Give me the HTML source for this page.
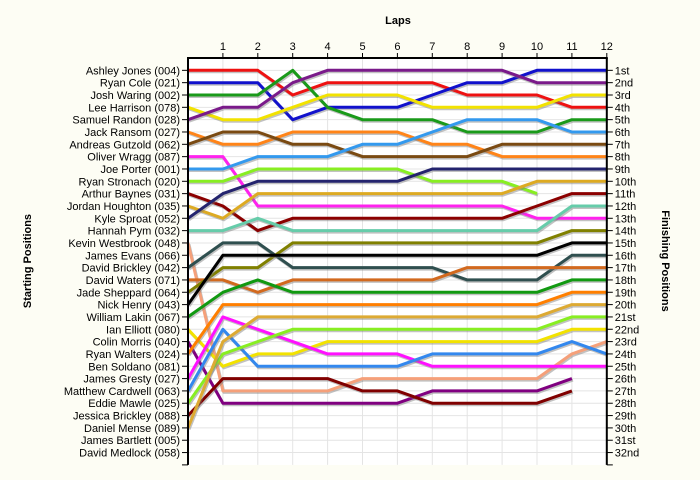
<!DOCTYPE html>
<html><head><meta charset="utf-8"><style>
html,body{margin:0;padding:0;background:#fdfdf4;}
svg{display:block;font-family:"Liberation Sans",sans-serif;}
</style></head><body>
<svg id="chart" width="700" height="480" viewBox="0 0 700 480">
<rect x="0" y="0" width="700" height="480" fill="#fdfdf4"/>
<rect x="188" y="58" width="419" height="407" fill="#ffffff"/>
<g id="grid"></g><g id="series"></g><g id="axes"></g>
<text x="398" y="24" text-anchor="middle" font-size="11" font-weight="bold">Laps</text>
<text transform="translate(31,261) rotate(-90)" text-anchor="middle" font-size="11" font-weight="bold">Starting Positions</text>
<text transform="translate(662,261) rotate(90)" text-anchor="middle" font-size="11" font-weight="bold">Finishing Positions</text>
</svg>
<script>
const laps = [0,1,2,3,4,5,6,7,8,9,10,11,12];
const startLabels = ["Ashley Jones (004)","Ryan Cole (021)","Josh Waring (002)","Lee Harrison (078)","Samuel Randon (028)","Jack Ransom (027)","Andreas Gutzold (062)","Oliver Wragg (087)","Joe Porter (001)","Ryan Stronach (020)","Arthur Baynes (031)","Jordan Houghton (035)","Kyle Sproat (052)","Hannah Pym (032)","Kevin Westbrook (048)","James Evans (066)","David Brickley (042)","David Waters (071)","Jade Sheppard (064)","Nick Henry (043)","William Lakin (067)","Ian Elliott (080)","Colin Morris (040)","Ryan Walters (024)","Ben Soldano (081)","James Gresty (027)","Matthew Cardwell (063)","Eddie Mawle (025)","Jessica Brickley (088)","Daniel Mense (089)","James Bartlett (005)","David Medlock (058)"];
const finishLabels = ["1st","2nd","3rd","4th","5th","6th","7th","8th","9th","10th","11th","12th","13th","14th","15th","16th","17th","18th","19th","20th","21st","22nd","23rd","24th","25th","26th","27th","28th","29th","30th","31st","32nd"];
const seriesNames = ["red","blue","green","yellow","purple","orange","brown","magenta","lightblue","chartreuse","darkred","goldenrod","navy","teal","salmon","darkslate","sienna","olive","black","green2","yellow2","purple2","orange2","magenta2","blue2","chartreuse2","darkred2","goldenrod2"];
const seriesColors = ["#ee1111","#1111cc","#1a9a1a","#f2e200","#7a1a8a","#ff8418","#7a4a12","#ff22ee","#3399ee","#88ee22","#8b0000","#ddaa22","#24246e","#66ccaa","#f5a07a","#2f4f4f","#d2691e","#808000","#000000","#119911","#f2e200","#800080","#ff7f00","#ff11ff","#3388ee","#88ee22","#800000","#ddaa33"];
const seriesPositions = [
[1,1,1,3,2,2,2,2,3,3,3,4,4],
[2,2,2,5,4,4,4,3,2,2,1,1,1],
[3,3,3,1,4,5,5,5,6,6,6,5,5],
[4,5,5,4,3,3,3,4,4,4,4,3,3],
[5,4,4,2,1,1,1,1,1,1,2,2,2],
[6,7,7,6,6,6,6,7,7,8,8,8,8],
[7,6,6,7,7,8,8,8,8,7,7,7,7],
[8,8,12,12,12,12,12,12,12,12,13,13,13],
[9,9,8,8,8,7,7,6,5,5,5,6,6],
[10,10,9,9,9,9,9,10,10,10,11,null,null],
[11,12,14,13,13,13,13,13,13,13,12,11,11],
[12,13,11,11,11,11,11,11,11,11,10,10,10],
[13,11,10,10,10,10,10,9,9,9,9,9,9],
[14,14,13,14,14,14,14,14,14,14,14,12,12],
[15,27,27,27,27,26,26,26,26,26,26,24,23],
[17,15,15,17,17,17,17,17,18,18,18,16,16],
[18,18,19,18,18,18,18,18,17,17,17,17,17],
[19,17,17,15,15,15,15,15,15,15,15,14,14],
[20,16,16,16,16,16,16,16,16,16,16,15,15],
[21,19,18,19,19,19,19,19,19,19,19,18,18],
[22,25,24,24,23,23,23,23,23,23,23,22,22],
[23,28,28,28,28,28,28,27,27,27,27,26,null],
[24,20,20,20,20,20,20,20,20,20,20,19,19],
[26,21,22,23,24,24,24,25,25,25,25,25,25],
[27,22,25,25,25,25,25,24,24,24,24,23,24],
[28,24,23,22,22,22,22,22,22,22,22,21,21],
[29,26,26,26,26,27,27,28,28,28,28,27,null],
[30,23,21,21,21,21,21,21,21,21,21,20,20]
];
const NS="http://www.w3.org/2000/svg";
const X0=188, LAPW=34.9, Y0=58, ROWH=12.33, NROWS=32;
function xScale(l){return X0+l*LAPW;}
function yScale(p){return Y0+p*ROWH;}
function mk(tag,attrs,parent){const e=document.createElementNS(NS,tag);for(const k in attrs)e.setAttribute(k,attrs[k]);parent.appendChild(e);return e;}
const grid=document.getElementById('grid'), ser=document.getElementById('series'), axes=document.getElementById('axes');
const XR=xScale(laps[laps.length-1]), YB=yScale(NROWS+1);
for(let i=1;i<laps.length;i++){
  const l=mk('line',{x1:xScale(laps[i]),x2:xScale(laps[i]),y1:Y0,y2:YB,stroke:'#e4e4e4','stroke-width':1},grid);
  
  
}
for(let r=1;r<=NROWS;r++){
  const l=mk('line',{x1:X0,x2:XR,y1:yScale(r),y2:yScale(r),stroke:'#e4e4e4','stroke-width':1},grid);
  
  
}
seriesPositions.forEach((pos,si)=>{
  const pts=[];
  pos.forEach((p,i)=>{if(p!==null)pts.push(xScale(laps[i]).toFixed(1)+','+yScale(p).toFixed(1));});
  const sh=mk('polyline',{points:pts.join(' '),fill:'none',stroke:'#777','stroke-opacity':0.45,'stroke-width':3,transform:'translate(1,1.5)','stroke-linejoin':'round'},ser);
  
  
  const pl=mk('polyline',{points:pts.join(' '),fill:'none',stroke:seriesColors[si],'stroke-width':3,'stroke-linejoin':'round'},ser);
  
  
});
let a=mk('line',{x1:X0,x2:X0,y1:Y0,y2:YB,stroke:'#000','stroke-width':2},axes);


a=mk('line',{x1:XR,x2:XR,y1:Y0,y2:YB,stroke:'#000','stroke-width':2},axes);


a=mk('line',{x1:X0-1,x2:XR+1,y1:Y0,y2:Y0,stroke:'#000','stroke-width':2},axes);


for(let i=1;i<laps.length;i++){
  const t=mk('line',{x1:xScale(laps[i]),x2:xScale(laps[i]),y1:Y0-5,y2:Y0,stroke:'#000','stroke-width':1},axes);
  
  
  const tx=mk('text',{x:xScale(laps[i]),y:Y0-8,'text-anchor':'middle','font-size':11,fill:'#000'},axes);
  tx.textContent=laps[i];
  
  
}
for(let r=1;r<=NROWS+1;r++){
  const t1=mk('line',{x1:X0-6,x2:X0,y1:yScale(r),y2:yScale(r),stroke:'#000','stroke-width':1},axes);
  
  
  const t2=mk('line',{x1:XR,x2:XR+6,y1:yScale(r),y2:yScale(r),stroke:'#000','stroke-width':1},axes);
  
  
}
startLabels.forEach((s,i)=>{
  const tx=mk('text',{x:X0-8,y:yScale(i+1)+4,'text-anchor':'end','font-size':11,fill:'#000'},axes);
  tx.textContent=s;
  
  
});
finishLabels.forEach((s,i)=>{
  const tx=mk('text',{x:XR+8,y:yScale(i+1)+4,'text-anchor':'start','font-size':11,fill:'#000'},axes);
  tx.textContent=s;
  
  
});
</script>
</body></html>
